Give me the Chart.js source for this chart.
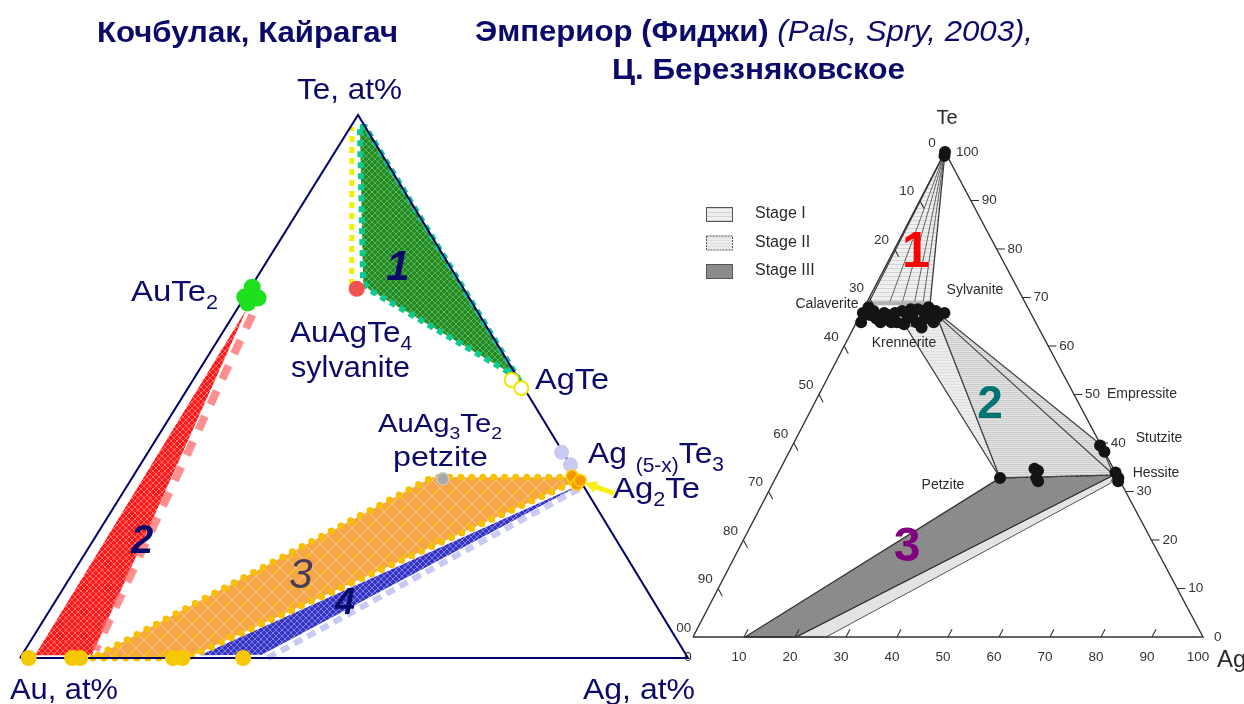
<!DOCTYPE html>
<html>
<head>
<meta charset="utf-8">
<script src="https://cdn.jsdelivr.net/npm/chart.js@4.4.0/dist/chart.umd.min.js"></script>
<style>
  html, body { margin: 0; padding: 0; background: #ffffff; }
  #wrap { width: 1244px; height: 704px; }
</style>
</head>
<body>
<div id="wrap"><canvas id="c" width="1244" height="704"></canvas></div>
<script>
// ---------- Compositions, at% as [Au, Ag, Te] ----------

// Left diagram: Кочбулак, Кайрагач
const triangleCorners = [[100, 0, 0], [0, 100, 0], [0, 0, 100]];
const field1Green = [[0.8, 1.4, 97.8], [0, 2.2, 97.8], [0, 48.3, 51.7], [14.2, 18.0, 67.8], [14.4, 16.3, 69.2]];
const field1YellowTie = [[16.4, 14.9, 68.7], [2.0, 0.2, 97.8]];
const field2Red = [[34.1, 1.4, 64.5], [97.5, 2.0, 0.5], [89.0, 10.5, 0.5]];
const field2PinkTie = [[34.0, 2.8, 63.2], [88.0, 10.6, 1.4]];
const field3Orange = [[89.1, 10.9, 0], [75, 25, 0], [1.6, 66.2, 32.2], [0.5, 66.5, 33], [0.8, 65.9, 33.3], [21.8, 44.9, 33.3]];
const field4Blue = [[72.8, 26.7, 0.5], [63.5, 35.9, 0.6], [0.7, 67.6, 31.7], [2.3, 66.6, 31.1]];
const field4LavenderTie = [[62.9, 37.1, 0], [0.2, 68.3, 31.5]];

const sylvaniteDot = [[16, 16, 68]];
const agTeCircles = [[1.1, 47.7, 51.2], [0.4, 49.9, 49.7]];
const auTe2Dots = [[31.5, 0.2, 68.3], [33.5, 0, 66.5], [31.6, 2.1, 66.3], [33.6, 1.0, 65.4]];
const goldBaseDots = [[98.7, 1.3, 0], [92.2, 7.8, 0], [91, 9, 0], [77.1, 22.9, 0], [75.7, 24.3, 0], [66.6, 33.4, 0]];
const petziteDot = [[20.4, 46.6, 33]];
const ag5xTe3Dots = [[0.2, 61.9, 37.9], [0, 64.4, 35.6]];
const ag2TeDots = [[0.8, 65.7, 33.5], [0.8, 67.2, 32], [0, 67.3, 32.7]];
const ag2TeComposition = [0, 66.7, 33.3];

// Right diagram: Эмпериор (Фиджи)
const stage1Apex = [0, 0, 100];
const stage1Base = [[30.8, 0.4, 68.8], [26.7, 4.5, 68.8], [24.2, 7.0, 68.8], [21.8, 9.4, 68.8], [20.1, 11.1, 68.8], [18.7, 12.5, 68.8]];
const stage2Light = [[25.9, 10.1, 64.0], [18.9, 16.2, 64.9], [23.2, 44.0, 32.8]];
const stage2Hatched = [[18.9, 16.2, 64.9], [17.5, 16.8, 65.7], [0, 60.3, 39.7], [0.6, 66.0, 33.4], [23.2, 44.0, 32.8]];
const stage2Tie = [[18.0, 16.7, 65.3], [0.6, 66.0, 33.4]];
const stage3Dark = [[23.2, 44.0, 32.8], [0.6, 66.0, 33.4], [79.8, 20.2, 0], [89.8, 10.2, 0]];
const stage3Light = [[79.8, 20.2, 0], [73.9, 26.1, 0], [2.1, 66.2, 31.7], [0.6, 66.0, 33.4]];

const tellurideDots = [
  [0, 0, 100], [0.5, 0.3, 99.2],
  [32.9, 0.3, 66.8], [34.2, 0.9, 64.9], [31.2, 0.8, 68.0], [30.6, 2.2, 67.2], [30.4, 4.7, 64.9],
  [28.2, 5.4, 66.4], [26.6, 6.6, 66.8], [27.2, 7.9, 64.9], [26.0, 9.5, 64.5], [24.7, 9.6, 65.7],
  [23.6, 10.4, 66.0], [23.4, 11.7, 64.9], [22.9, 13.3, 63.8], [20.9, 11.9, 67.2], [19.4, 12.6, 68.0],
  [19.6, 13.7, 66.4], [20.0, 15.1, 64.9], [18.4, 14.4, 67.2], [18.7, 15.3, 66.0], [16.9, 16.3, 66.8],
  [23.1, 9.3, 67.6], [21.7, 10.7, 67.6], [25.0, 7.8, 67.2], [28.7, 4.5, 66.8], [31.0, 3.5, 66.0],
  [31.7, 1.9, 66.4], [21.3, 13.0, 65.7], [28.3, 6.8, 64.9]
];
const petziteHessiteDots = [
  [23.2, 44.0, 32.8],
  [15.5, 49.8, 34.7], [15.0, 50.7, 34.3], [16.1, 51.1, 32.8], [16.1, 51.8, 32.1],
  [0.2, 60.3, 39.5], [0, 61.8, 38.2],
  [0, 66.1, 33.9], [0, 67.2, 32.8], [0.4, 67.5, 32.1]
];

const axisTicks = [10, 20, 30, 40, 50, 60, 70, 80, 90];
const axisTickLabels = ['0', '10', '20', '30', '40', '50', '60', '70', '80', '90', '100'];
const legendStages = ['Stage I', 'Stage II', 'Stage III'];

// ---------- Ternary frames (corner positions in chart units) ----------
const LEFT = { au: [20, 658], ag: [688, 658], te: [358, 115] };
const RIGHT = { au: [693, 637], ag: [1203, 637], te: [945, 152] };

function tern(f, c) {
  const s = c[0] + c[1] + c[2];
  return {
    x: (c[0] * f.au[0] + c[1] * f.ag[0] + c[2] * f.te[0]) / s,
    y: (c[0] * f.au[1] + c[1] * f.ag[1] + c[2] * f.te[1]) / s
  };
}

// ---------- Fill textures ----------
function makePattern(w, h, draw) {
  const c = document.createElement('canvas');
  c.width = w; c.height = h;
  const g = c.getContext('2d');
  draw(g, w, h);
  return g.createPattern(c, 'repeat');
}
function lattice(base, line, step) {
  return makePattern(step, step, (g, w, h) => {
    g.fillStyle = base; g.fillRect(0, 0, w, h);
    g.strokeStyle = line; g.lineWidth = 1;
    g.beginPath(); g.moveTo(0, 0); g.lineTo(w, h); g.moveTo(w, 0); g.lineTo(0, h); g.stroke();
  });
}
const texGreen = lattice('#218a21', 'rgba(140,210,140,0.55)', 6);
const texRed = lattice('#ff1818', 'rgba(255,185,185,0.55)', 6);
const texBlue = lattice('#3434c4', 'rgba(185,185,255,0.55)', 6);
const texOrange = makePattern(16, 16, (g, w, h) => {
  g.fillStyle = '#f6a64a'; g.fillRect(0, 0, w, h);
  g.strokeStyle = 'rgba(255,225,175,0.6)'; g.lineWidth = 1;
  g.beginPath(); g.moveTo(0, 0); g.lineTo(w, h); g.moveTo(w, 0); g.lineTo(0, h); g.stroke();
  g.fillStyle = 'rgba(245,190,20,0.7)';
  g.beginPath(); g.arc(4, 12, 2.5, 0, Math.PI * 2); g.fill();
});
function hatch(base, line, step) {
  return makePattern(4, step, (g, w, h) => {
    g.fillStyle = base; g.fillRect(0, 0, w, h);
    g.fillStyle = line; g.fillRect(0, 0, w, 1);
  });
}
const texStage1 = hatch('#efefef', '#d4d4d4', 4);
const texStage2 = hatch('#e6e6e6', '#c9c9c9', 2);
const texStage2Light = hatch('#ececec', '#e0e0e0', 3);
const texStage3 = makePattern(4, 4, (g) => {
  g.fillStyle = '#8d8d8d'; g.fillRect(0, 0, 4, 4);
  g.fillStyle = '#7f7f7f'; g.fillRect(0, 0, 1, 1); g.fillRect(2, 2, 1, 1);
});

// ---------- Datasets ----------
const datasets = [];
function poly(frame, comps, o) {
  const pts = comps.map(c => tern(frame, c));
  if (o.closed !== false) pts.push(pts[0]);
  datasets.push({
    data: pts,
    fill: o.fill ? 'shape' : false,
    backgroundColor: o.fill || 'rgba(0,0,0,0)',
    borderColor: o.stroke || 'rgba(0,0,0,0)',
    borderWidth: o.width || 0,
    borderDash: o.dash || [],
    borderCapStyle: o.cap || 'butt',
    borderJoinStyle: o.join || 'miter',
    pointRadius: 0,
    tension: 0
  });
}
function path(frame, comps, o) { poly(frame, comps, Object.assign({ closed: false }, o)); }
function dots(frame, comps, o) {
  datasets.push({
    data: comps.map(c => tern(frame, c)),
    showLine: false,
    pointRadius: o.r,
    pointBackgroundColor: o.fill,
    pointBorderColor: o.stroke || o.fill,
    pointBorderWidth: o.bw || 0
  });
}

// Right diagram fields
poly(RIGHT, stage3Light, { fill: '#e3e3e3', stroke: '#555', width: 1 });
poly(RIGHT, stage3Dark, { fill: texStage3, stroke: '#333', width: 1.3 });
poly(RIGHT, stage2Light, { fill: texStage2Light, stroke: '#444', width: 1.2 });
poly(RIGHT, stage2Hatched, { fill: texStage2, stroke: '#444', width: 1.2 });
path(RIGHT, [stage2Hatched[4], stage2Hatched[3]], { stroke: '#444', width: 1.2, dash: [3, 2] });
path(RIGHT, stage2Tie, { stroke: '#444', width: 1.1 });
poly(RIGHT, [stage1Apex, stage1Base[0], stage1Base[stage1Base.length - 1]], { fill: texStage1, stroke: '#3a3a3a', width: 1.3 });
stage1Base.slice(1, -1).forEach(b => path(RIGHT, [stage1Apex, b], { stroke: '#555', width: 0.9 }));
path(RIGHT, [stage1Base[0], stage1Base[stage1Base.length - 1]], { stroke: '#b0b0b0', width: 4 });

// Right triangle and its ticks
poly(RIGHT, triangleCorners, { stroke: '#333333', width: 1.4 });
axisTicks.forEach(k => {
  path(RIGHT, [[k, 0, 100 - k], [k, 1.6, 98.4 - k]], { stroke: '#333333', width: 1.1 });
  path(RIGHT, [[0, 100 - k, k], [-1.6, 101.6 - k, k]], { stroke: '#333333', width: 1.1 });
  path(RIGHT, [[100 - k, k, 0], [98.4 - k, k, 1.6]], { stroke: '#333333', width: 1.1 });
});
dots(RIGHT, tellurideDots, { r: 6, fill: '#141414' });
dots(RIGHT, petziteHessiteDots, { r: 6, fill: '#141414' });

// Left diagram fields
poly(LEFT, field2Red, { fill: texRed });
path(LEFT, field2PinkTie, { stroke: 'rgba(255,105,105,0.75)', width: 8, dash: [15, 13] });
poly(LEFT, field3Orange, { fill: texOrange });
poly(LEFT, field4Blue, { fill: texBlue });
path(LEFT, field4LavenderTie, { stroke: '#c9c9f6', width: 6, dash: [9, 6] });
poly(LEFT, field3Orange, { stroke: '#f7c000', width: 7, dash: [0, 11], cap: 'round', join: 'round' });
poly(LEFT, field1Green, { fill: texGreen });
poly(LEFT, field1Green, { stroke: '#10c98f', width: 6, dash: [6, 5] });
path(LEFT, field1YellowTie, { stroke: '#f2f000', width: 5, dash: [6, 5] });

poly(LEFT, triangleCorners, { stroke: '#00006a', width: 2 });

dots(LEFT, goldBaseDots, { r: 8, fill: '#f6c800' });
dots(LEFT, auTe2Dots, { r: 8.5, fill: '#1ee01e' });
dots(LEFT, sylvaniteDot, { r: 8, fill: '#f25252' });
dots(LEFT, agTeCircles, { r: 7, fill: '#ffffff', stroke: '#f2e600', bw: 2 });
dots(LEFT, petziteDot, { r: 6, fill: '#a8a8a8', stroke: '#c8c8c8', bw: 1.5 });
dots(LEFT, ag5xTe3Dots, { r: 7.5, fill: '#c9c9f2' });
dots(LEFT, ag2TeDots, { r: 6, fill: '#f59800', stroke: '#ffd200', bw: 1.5 });

datasets.forEach((d, i) => { d.order = datasets.length - i; });

// ---------- Text ----------
const NAVY = '#0a0a6a';
const FAM = '"Liberation Sans", Arial, sans-serif';

// parts: [text, relative size, baseline shift (em), weight, style]
const leftTexts = [
  { parts: [['Кочбулак, Кайрагач', 1, 0, 'bold']], x: 97, r: 398, y: 42, size: 29 },
  { parts: [['Te, at%']], x: 297, r: 402, y: 99, size: 29 },
  { parts: [['AuTe'], ['2', 0.66, 0.25]], x: 131, r: 218, y: 301, size: 30 },
  { parts: [['AuAgTe'], ['4', 0.66, 0.25]], x: 290, r: 412, y: 342, size: 30 },
  { parts: [['sylvanite']], x: 291, r: 410, y: 377, size: 30 },
  { parts: [['AgTe']], x: 535, r: 609, y: 389, size: 30 },
  { parts: [['AuAg'], ['3', 0.66, 0.25], ['Te'], ['2', 0.66, 0.25]], x: 378, r: 502, y: 432, size: 26 },
  { parts: [['petzite']], x: 393, r: 488, y: 466, size: 28 },
  { parts: [['Ag '], ['(5-x)', 0.66, 0.3], ['Te'], ['3', 0.66, 0.25]], x: 588, r: 724, y: 463, size: 30 },
  { parts: [['Ag'], ['2', 0.66, 0.25], ['Te']], x: 613, r: 700, y: 498, size: 30 },
  { parts: [['Au, at%']], x: 10, r: 118, y: 699, size: 30 },
  { parts: [['Ag, at%']], x: 583, r: 695, y: 699, size: 30 },
  { parts: [['Эмпериор (Фиджи) ', 1, 0, 'bold'], ['(Pals, Spry, 2003),', 1, 0, 'normal', 'italic']], x: 475, r: 1033, y: 41, size: 29 },
  { parts: [['Ц. Березняковское', 1, 0, 'bold']], x: 612, r: 905, y: 79, size: 29 }
];
const fieldNumbers = [
  { t: '1', x: 398, y: 280, size: 42, color: NAVY, style: 'italic bold' },
  { t: '2', x: 142, y: 553, size: 40, color: NAVY, style: 'italic bold' },
  { t: '3', x: 301, y: 588, size: 42, color: '#4a3c58', style: 'italic' },
  { t: '4', x: 345, y: 614, size: 36, color: NAVY, style: 'italic bold' },
  { t: '1', x: 916, y: 267, size: 50, color: '#ff0000', style: 'bold' },
  { t: '2', x: 990, y: 418, size: 46, color: '#007373', style: 'bold' },
  { t: '3', x: 907, y: 561, size: 48, color: '#800080', style: 'bold' }
];
const mineralNames = [
  { t: 'Calaverite', x: 827, y: 304 },
  { t: 'Sylvanite', x: 975, y: 290 },
  { t: 'Krennerite', x: 904, y: 343 },
  { t: 'Empressite', x: 1142, y: 394 },
  { t: 'Stutzite', x: 1159, y: 438 },
  { t: 'Hessite', x: 1156, y: 473 },
  { t: 'Petzite', x: 943, y: 485 }
];

function drawRich(ctx, item) {
  let total = 0;
  const runs = item.parts.map(p => {
    const [t, rel = 1, dy = 0, weight = 'normal', style = 'normal'] = p;
    const font = `${style} ${weight} ${item.size * rel}px ${FAM}`;
    ctx.font = font;
    const w = ctx.measureText(t).width;
    total += w;
    return { t, font, w, dy: dy * item.size };
  });
  const sx = item.r ? (item.r - item.x) / total : 1;
  ctx.save();
  ctx.translate(item.x, item.y);
  ctx.scale(sx, 1);
  ctx.textBaseline = 'alphabetic';
  ctx.textAlign = 'left';
  let x = 0;
  runs.forEach(r => { ctx.font = r.font; ctx.fillText(r.t, x, r.dy); x += r.w; });
  ctx.restore();
}

const labelPlugin = {
  id: 'diagramText',
  afterDatasetsDraw(chart) {
    const ctx = chart.ctx;
    const X = v => chart.scales.x.getPixelForValue(v);
    const Y = v => chart.scales.y.getPixelForValue(v);
    const P = (f, c) => { const p = tern(f, c); return { x: X(p.x), y: Y(p.y) }; };

    // Right diagram text (its left edge sits under the left diagram)
    ctx.save();
    ctx.beginPath(); ctx.rect(X(677), 0, chart.width, chart.height); ctx.clip();
    ctx.fillStyle = '#333';
    ctx.font = `13.5px ${FAM}`;
    ctx.textBaseline = 'middle';
    axisTickLabels.forEach((lab, i) => {
      const k = i * 10;
      const pl = P(RIGHT, [k, 0, 100 - k]);
      ctx.textAlign = 'center'; ctx.fillText(lab, pl.x - 13, pl.y - 9);
      const pr = P(RIGHT, [0, 100 - k, k]);
      ctx.textAlign = 'left'; ctx.fillText(lab, pr.x + 11, pr.y);
      const pb = P(RIGHT, [100 - k, k, 0]);
      ctx.textAlign = 'center'; ctx.fillText(lab, pb.x - 5, pb.y + 20);
    });
    ctx.fillStyle = '#2a2a2a';
    ctx.font = `14px ${FAM}`;
    ctx.textAlign = 'center';
    mineralNames.forEach(m => ctx.fillText(m.t, X(m.x), Y(m.y)));
    ctx.font = `20px ${FAM}`;
    ctx.textBaseline = 'alphabetic';
    ctx.fillText('Te', X(947), Y(124));
    ctx.textAlign = 'left';
    ctx.font = `24px ${FAM}`;
    ctx.fillText('Ag', X(1217), Y(667));

    // Legend of stages
    const swatches = [texStage1, texStage2Light, texStage3];
    legendStages.forEach((s, i) => {
      const top = Y(207 + i * 28.5);
      ctx.fillStyle = swatches[i];
      ctx.fillRect(X(706), top, 26, 14);
      ctx.strokeStyle = '#555'; ctx.lineWidth = 1; ctx.setLineDash(i === 1 ? [2, 1] : []);
      ctx.strokeRect(X(706) + 0.5, top + 0.5, 26, 14);
      ctx.setLineDash([]);
      ctx.fillStyle = '#2a2a2a';
      ctx.font = `16px ${FAM}`;
      ctx.textBaseline = 'middle';
      ctx.fillText(s, X(755), top + 7);
    });
    ctx.restore();

    // Arrow pointing at Ag2Te
    const a = P(LEFT, ag2TeComposition);
    const tip = { x: a.x + 7, y: a.y + 6 }, tail = { x: a.x + 36, y: a.y + 16 };
    const ang = Math.atan2(tip.y - tail.y, tip.x - tail.x);
    ctx.save();
    ctx.strokeStyle = '#f8ee10'; ctx.fillStyle = '#f8ee10'; ctx.lineWidth = 5;
    ctx.beginPath(); ctx.moveTo(tail.x, tail.y); ctx.lineTo(tip.x - 8 * Math.cos(ang), tip.y - 8 * Math.sin(ang)); ctx.stroke();
    ctx.beginPath();
    ctx.moveTo(tip.x, tip.y);
    ctx.lineTo(tip.x - 13 * Math.cos(ang - 0.5), tip.y - 13 * Math.sin(ang - 0.5));
    ctx.lineTo(tip.x - 13 * Math.cos(ang + 0.5), tip.y - 13 * Math.sin(ang + 0.5));
    ctx.closePath(); ctx.fill();
    ctx.restore();

    // Left diagram and title text
    ctx.save();
    ctx.fillStyle = NAVY;
    leftTexts.forEach(t => drawRich(ctx, { ...t, x: X(t.x), r: X(t.r), y: Y(t.y) }));
    ctx.textAlign = 'center';
    ctx.textBaseline = 'alphabetic';
    fieldNumbers.forEach(n => {
      ctx.fillStyle = n.color;
      ctx.font = `${n.style} ${n.size}px ${FAM}`;
      ctx.fillText(n.t, X(n.x), Y(n.y));
    });
    ctx.restore();
  }
};

new Chart(document.getElementById('c'), {
  type: 'line',
  data: { datasets },
  options: {
    responsive: false,
    animation: false,
    devicePixelRatio: 1,
    events: [],
    layout: { padding: 0, autoPadding: false },
    scales: {
      x: { type: 'linear', min: 0, max: 1244, display: false },
      y: { type: 'linear', min: 0, max: 704, reverse: true, display: false }
    },
    plugins: { legend: { display: false }, tooltip: { enabled: false } }
  },
  plugins: [labelPlugin]
});
</script>
</body>
</html>
